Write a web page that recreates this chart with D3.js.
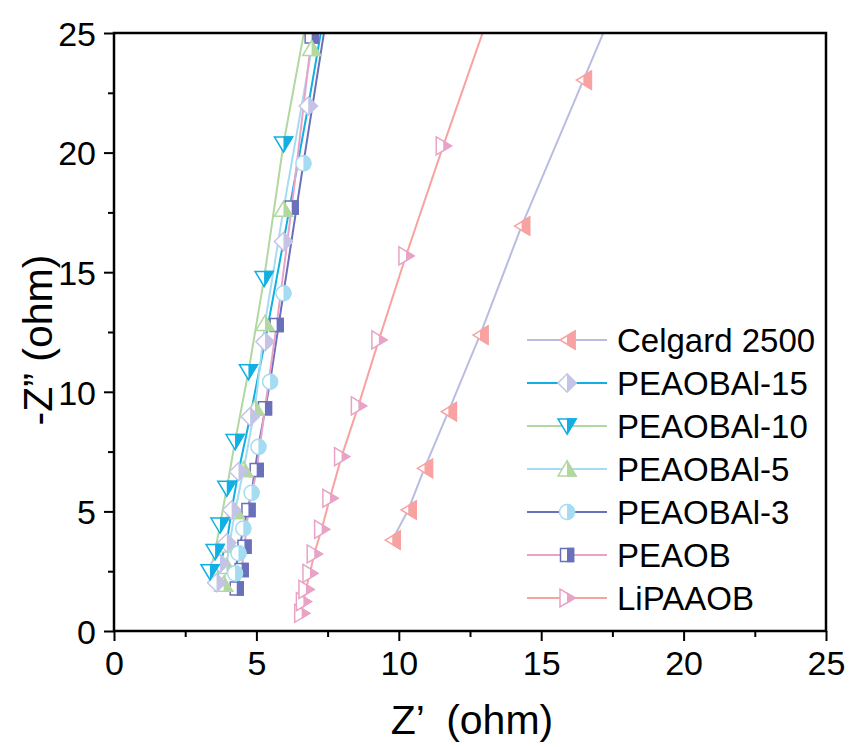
<!DOCTYPE html>
<html>
<head>
<meta charset="utf-8">
<script src="https://cdn.jsdelivr.net/npm/d3@7"></script>
<style>
  body { margin: 0; background: #fff; }
  svg text { font-family: Arial, "Liberation Sans", sans-serif; fill: #000; }
</style>
</head>
<body>
<div class="nyquist-container"></div>
<script>
// Nyquist plot, data (Z', -Z'') in ohm
const series_names = ['Celgard 2500', 'PEAOBAl-15', 'PEAOBAl-10', 'PEAOBAl-5', 'PEAOBAl-3', 'PEAOB', 'LiPAAOB'];

const celgard_2500 = [[9.77, 3.80], [10.33, 5.06], [10.90, 6.80], [11.74, 9.17], [12.85, 12.37], [14.31, 16.93], [16.48, 23.03], [18.78, 29.5]];
const peaobal_15 = [[3.60, 2.02], [3.72, 2.83], [3.96, 3.69], [4.13, 5.06], [4.37, 6.66], [4.78, 8.96], [5.30, 12.09], [5.95, 16.28], [6.82, 21.95], [7.91, 29.5]];
const peaobal_10 = [[3.37, 2.48], [3.55, 3.32], [3.72, 4.43], [3.96, 5.97], [4.25, 7.92], [4.72, 10.84], [5.27, 14.74], [5.95, 20.36], [7.13, 28.0]];
const peaobal_5 = [[3.85, 1.95], [3.95, 2.70], [4.05, 3.60], [4.25, 5.00], [4.55, 6.75], [4.95, 9.31], [5.30, 12.86], [5.95, 17.63], [6.94, 24.35], [8.21, 33.0]];
const peaobal_3 = [[4.25, 2.41], [4.37, 3.25], [4.54, 4.29], [4.83, 5.78], [5.07, 7.70], [5.48, 10.42], [5.95, 14.12], [6.65, 19.55], [7.57, 26.5]];
const peaob = [[4.31, 1.78], [4.48, 2.55], [4.58, 3.52], [4.72, 5.06], [5.01, 6.73], [5.30, 9.31], [5.71, 12.79], [6.24, 17.71], [6.94, 24.85], [8.20, 34.0]];
const lipaaob = [[6.59, 0.74], [6.65, 1.23], [6.74, 1.74], [6.88, 2.41], [7.03, 3.22], [7.29, 4.25], [7.58, 5.55], [7.99, 7.29], [8.58, 9.41], [9.30, 12.17], [10.25, 15.68], [11.56, 20.28], [13.38, 26.5]];

const x_ticks = [0, 5, 10, 15, 20, 25];
const y_ticks = [0, 5, 10, 15, 20, 25];
const minor_ticks = [2.5, 7.5, 12.5, 17.5, 22.5];

// colours: Origin style, every line takes the symbol colour of the series before it
const salmon = '#f8a2a2', lavender = '#c4c4e6', cyan = '#12b0e2', light_green = '#b3d7a0',
      light_blue = '#a5dcf2', dark_blue = '#6a70ba', pink = '#e9a3c7';

function prepare_series() {
   return [
      {name: series_names[0], values: celgard_2500, line: '#b9bde2', marker: salmon, shape: 'tri_left'},
      {name: series_names[1], values: peaobal_15, line: cyan, marker: lavender, shape: 'diamond'},
      {name: series_names[2], values: peaobal_10, line: light_green, marker: cyan, shape: 'tri_down'},
      {name: series_names[3], values: peaobal_5, line: light_blue, marker: light_green, shape: 'tri_up'},
      {name: series_names[4], values: peaobal_3, line: dark_blue, marker: light_blue, shape: 'circle'},
      {name: series_names[5], values: peaob, line: pink, marker: dark_blue, shape: 'square'},
      {name: series_names[6], values: lipaaob, line: salmon, marker: pink, shape: 'tri_right'},
   ];
}

const shape_paths = {
   tri_left: 'M-7,0L8,-9L8,9Z',
   tri_right: 'M8,0L-7,-9L-7,9Z',
   tri_up: 'M0,-8L9,7L-9,7Z',
   tri_down: 'M0,8L9,-7L-9,-7Z',
   diamond: 'M0,-9L9,0L0,9L-9,0Z',
   square: 'M-6.5,-6.5H6.5V6.5H-6.5Z',
   circle: 'M7.5,0A7.5,7.5 0 1,1 -7.5,0A7.5,7.5 0 1,1 7.5,0Z',
};

function build_chart_container(margin, width, height) {
   return d3.select('.nyquist-container')
      .append('svg')
      .attr('width', 855)
      .attr('height', 747)
      .append('g')
      .attr('transform', `translate(${margin.left}, ${margin.top})`);
}

function add_defs(container, width, height) {
   const defs = container.append('defs');
   defs.append('clipPath').attr('id', 'plot-clip')
      .append('rect').attr('width', width).attr('height', height);
   // right half of a symbol gets the solid fill
   defs.append('clipPath').attr('id', 'half-clip')
      .append('rect').attr('x', 0).attr('y', -15).attr('width', 15).attr('height', 30);
}

function draw_axes(container, x_scale, y_scale, width, height) {
   const x_axis = d3.axisBottom(x_scale).tickValues(x_ticks).tickSize(10).tickSizeOuter(0).tickPadding(7);
   const x_minor = d3.axisBottom(x_scale).tickValues(minor_ticks).tickSize(6).tickSizeOuter(0).tickFormat('');
   const y_axis = d3.axisLeft(y_scale).tickValues(y_ticks).tickSize(10).tickSizeOuter(0).tickPadding(8);
   const y_minor = d3.axisLeft(y_scale).tickValues(minor_ticks).tickSize(6).tickSizeOuter(0).tickFormat('');

   const gx = container.append('g').attr('transform', `translate(0, ${height})`).call(x_axis);
   container.append('g').attr('transform', `translate(0, ${height})`).call(x_minor);
   const gy = container.append('g').call(y_axis);
   container.append('g').call(y_minor);

   container.selectAll('.domain').remove();
   container.selectAll('.tick line').attr('stroke', '#000').attr('stroke-width', 2);
   gx.selectAll('text').style('font-size', '34px').attr('dy', '0.78em');
   gy.selectAll('text').style('font-size', '34px').attr('dy', '0.36em');

   // frame
   container.append('rect')
      .attr('width', width)
      .attr('height', height)
      .attr('fill', 'none')
      .attr('stroke', '#000')
      .attr('stroke-width', 2.5);

   container.append('text')
      .attr('x', width / 2 + 2)
      .attr('y', height + 103)
      .attr('text-anchor', 'middle')
      .attr('xml:space', 'preserve')
      .style('font-size', '41px')
      .text('Z\u2019  (ohm)');

   container.append('text')
      .attr('transform', `translate(-62, ${height / 2 + 8}) rotate(-90)`)
      .attr('text-anchor', 'middle')
      .style('font-size', '41px')
      .text('-Z\u201d (ohm)');
}

function draw_marker(sel, d) {
   sel.append('path').attr('d', shape_paths[d.shape])
      .attr('fill', '#fff').attr('stroke', d.marker).attr('stroke-width', 1.5);
   sel.append('path').attr('d', shape_paths[d.shape])
      .attr('clip-path', 'url(#half-clip)')
      .attr('fill', d.marker).attr('stroke', d.marker).attr('stroke-width', 1.5);
}

function draw_series(container, series, x_scale, y_scale) {
   const line_gen = d3.line().x(p => x_scale(p[0])).y(p => y_scale(p[1]));
   const plot = container.append('g').attr('clip-path', 'url(#plot-clip)');

   plot.selectAll('.line-series')
      .data(series)
      .enter()
      .append('path')
      .attr('class', 'line-series')
      .attr('d', d => line_gen(d.values))
      .style('fill', 'none')
      .style('stroke', d => d.line)
      .style('stroke-width', 2);

   const draw_order = [0, 6, 5, 3, 4, 1, 2];
   draw_order.forEach(i => {
      const d = series[i];
      plot.append('g').selectAll('g')
         .data(d.values)
         .enter()
         .append('g')
         .attr('transform', p => `translate(${x_scale(p[0])}, ${y_scale(p[1])})`)
         .each(function () { draw_marker(d3.select(this), d); });
   });
}

function draw_legend(container, series) {
   const legend = container.append('g').attr('transform', 'translate(413, 307)');
   series.forEach((d, i) => {
      const row = legend.append('g').attr('transform', `translate(0, ${i * 43})`);
      row.append('line').attr('x1', 0).attr('x2', 80)
         .attr('stroke', d.line).attr('stroke-width', 2);
      const m = row.append('g').attr('transform', 'translate(40, 0)');
      draw_marker(m, d);
      row.append('text')
         .attr('x', 90)
         .attr('dy', '0.36em')
         .style('font-size', '33px')
         .text(d.name);
   });
}

function nyquist_main() {
   const margin = {top: 33, left: 114};
   const width = 826 - 114;
   const height = 631 - 33;

   const series = prepare_series();
   const x_scale = d3.scaleLinear().domain([0, 25]).range([0, width]);
   const y_scale = d3.scaleLinear().domain([0, 25]).range([height, 0]);

   const container = build_chart_container(margin, width, height);
   add_defs(container, width, height);
   draw_series(container, series, x_scale, y_scale);
   draw_axes(container, x_scale, y_scale, width, height);
   draw_legend(container, series);
}

nyquist_main();
</script>
</body>
</html>
